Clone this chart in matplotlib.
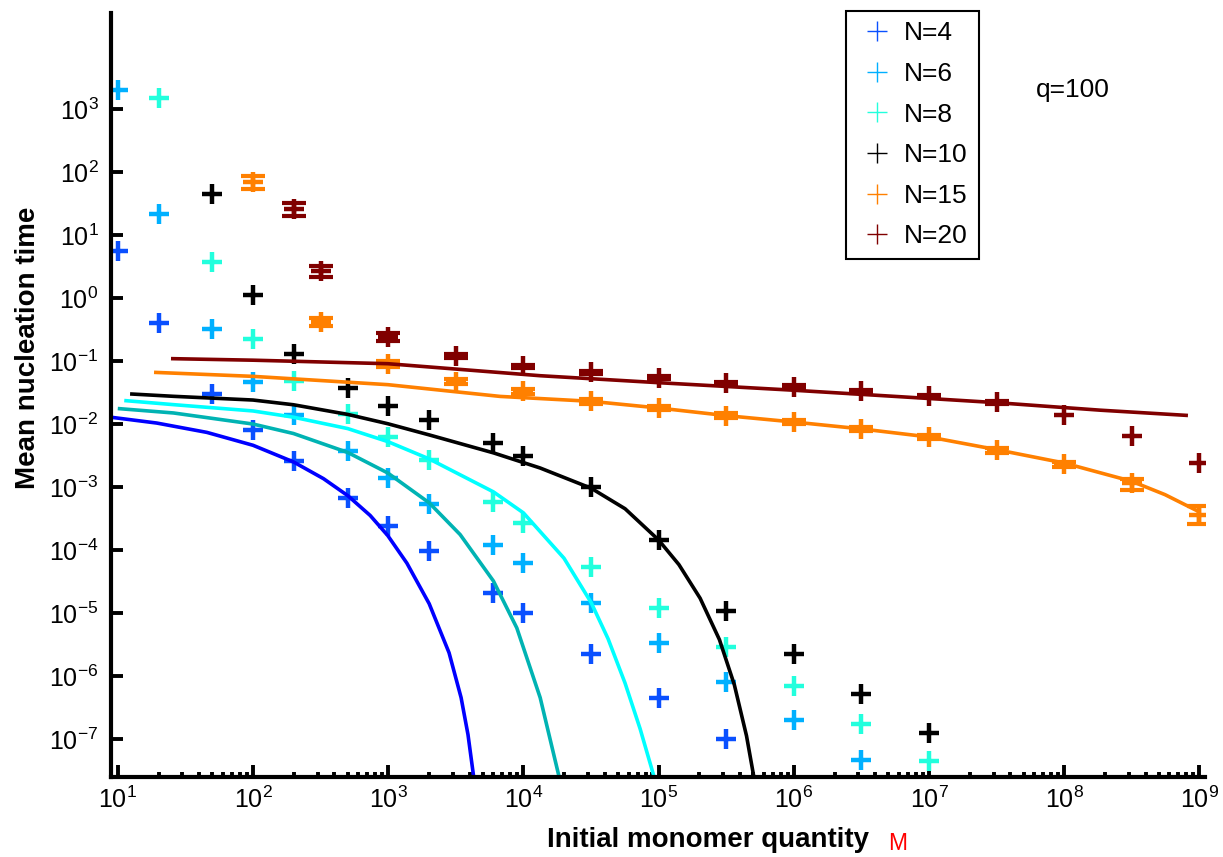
import numpy as np
import matplotlib
matplotlib.use("Agg")
import matplotlib.pyplot as plt
from matplotlib.lines import Line2D
from matplotlib.ticker import NullLocator, FixedLocator

plt.rcParams['font.family'] = ['Liberation Sans', 'DejaVu Sans']

# simulated mean nucleation times (markers)
x4 = [10, 20, 50, 100, 200, 500, 1000, 2000, 6000, 1e4, 31623, 1e5, 316228]
y4 = [5.5, 0.40, 0.030, 0.0081, 0.0026, 6.7e-4, 2.4e-4, 9.5e-5, 2.1e-5, 1.0e-5, 2.2e-6, 4.5e-7, 9.8e-8]

x6 = [10, 20, 50, 100, 200, 500, 1000, 2000, 6000, 1e4, 31623, 1e5, 316228, 1e6, 3.16e6]
y6 = [2020, 21.5, 0.32, 0.047, 0.014, 0.0037, 0.0014, 5.3e-4, 1.2e-4, 6.2e-5, 1.44e-5, 3.3e-6, 8e-7, 2.0e-7, 4.7e-8]

x8 = [20, 50, 100, 200, 500, 1000, 2000, 6000, 1e4, 31623, 1e5, 316228, 1e6, 3.16e6, 1e7]
y8 = [1490, 3.7, 0.22, 0.048, 0.0144, 0.0063, 0.0027, 5.7e-4, 2.7e-4, 5.4e-5, 1.2e-5, 2.9e-6, 7e-7, 1.75e-7, 4.4e-8]

x10 = [50, 100, 200, 500, 1000, 2000, 6000, 1e4, 31623, 1e5, 316228, 1e6, 3.16e6, 1e7]
y10 = [45, 1.1, 0.13, 0.037, 0.0195, 0.0114, 0.005, 0.0031, 1.0e-3, 1.45e-4, 1.07e-5, 2.2e-6, 5.2e-7, 1.25e-7]

x15 = [100, 316, 1000, 3162, 1e4, 31623, 1e5, 316228, 1e6, 3.16e6, 1e7, 3.16e7, 1e8, 3.16e8, 1e9]
y15 = [69, 0.41, 0.089, 0.047, 0.033, 0.023, 0.018, 0.0135, 0.0108, 0.0084, 0.0062, 0.0038, 0.0023, 0.00115, 0.00036]
lo15 = [54, 0.355, 0.080, 0.043, 0.030, 0.021, 0.0165, 0.0124, 0.0099, 0.0077, 0.0057, 0.0035, 0.0021, 0.00091, 0.00026]
hi15 = [85, 0.48, 0.099, 0.051, 0.036, 0.025, 0.0196, 0.0147, 0.0117, 0.0091, 0.0067, 0.0041, 0.0025, 0.00135, 0.00049]

x20 = [200, 316, 1000, 3162, 1e4, 31623, 1e5, 316228, 1e6, 3.16e6, 1e7, 3.16e7, 1e8, 3.16e8, 1e9]
y20 = [26, 2.7, 0.24, 0.12, 0.082, 0.066, 0.054, 0.045, 0.039, 0.033, 0.028, 0.022, 0.014, 0.0065, 0.0024]
lo20 = [19.7, 2.12, 0.21, 0.112, 0.077, 0.062, 0.051, 0.043, 0.037, 0.031, 0.027, 0.021, 0.014, 0.0065, 0.0024]
hi20 = [32.2, 3.26, 0.275, 0.128, 0.087, 0.070, 0.057, 0.047, 0.041, 0.035, 0.029, 0.023, 0.014, 0.0065, 0.0024]

# theoretical curves
cx4 = [9.04, 19.4, 45.5, 100, 199, 332, 502, 735, 993, 1374, 2009, 2818, 3459, 3890, 4315]
cy4 = [0.01274, 0.01035, 0.00736, 0.00459, 0.0025, 0.001355, 7.28e-4, 3.53e-4, 1.687e-4, 6.17e-5,
       1.40e-5, 2.33e-6, 4.52e-7, 1.17e-7, 2.23e-8]

cx6 = [10.3, 25.8, 100, 199, 502, 993, 2009, 3404, 6000, 8933, 13300, 18160]
cy6 = [0.0175, 0.01496, 0.00998, 0.00706, 0.00353, 0.001667, 5.6e-4, 1.754e-4, 3.21e-5, 5.78e-6,
       4.52e-7, 2.75e-8]

cx8 = [11.5, 25.8, 100, 199, 502, 993, 2009, 6000, 10000, 19950, 31700, 42270, 56490, 72950, 92680]
cy8 = [0.02344, 0.02028, 0.0161, 0.01282, 0.00845, 0.00525, 0.00279, 8.36e-4, 3.88e-4, 7.4e-5,
       1.46e-5, 3.89e-6, 7.66e-7, 1.45e-7, 2.47e-8]

cx10 = [12.7, 25.8, 100, 199, 502, 993, 2009, 6000, 13300, 31700, 56490, 99770, 141300, 202800,
        281800, 363100, 446700, 517600]
cy10 = [0.0299, 0.0275, 0.024, 0.0202, 0.01419, 0.01009, 0.00671, 0.00348, 0.002, 9.55e-4,
        4.51e-4, 1.445e-4, 5.85e-5, 1.71e-5, 3.76e-6, 7.24e-7, 1.12e-7, 1.91e-8]

cx15 = [19.1, 100.7, 993, 6730, 31700, 99770, 319200, 993200, 3.18e6, 1.0e7, 3.17e7, 1.0e8, 3.16e8, 5.57e8, 9.82e8]
cy15 = [0.0659, 0.0570, 0.0421, 0.0274, 0.0229, 0.01795, 0.01355, 0.01076, 0.00834, 0.00622, 0.00391,
        0.0024, 0.00123, 7.55e-4, 4.1e-4]

cx20 = [25.5, 100, 993, 13300, 99100, 988600, 6.11e6, 3.17e7, 1.85e8, 7.98e8]
cy20 = [0.1089, 0.103, 0.0906, 0.0584, 0.0453, 0.0344, 0.0271, 0.0218, 0.01656, 0.01371]

labels = ['N=4', 'N=6', 'N=8', 'N=10', 'N=15', 'N=20']
marker_colors = ['#0a50ff', '#00b0ff', '#22ffdd', '#000000', '#ff8000', '#800000']
curve_colors = ['#0000ff', '#00b3b3', '#00ffff', '#000000', '#ff8000', '#800000']

fig = plt.figure(figsize=(12.23, 8.57), dpi=100)
ax = fig.add_axes([111 / 1223, 1 - 776.7 / 857, (1205 - 111) / 1223, (776.7 - 12.7) / 857])
ax.set_xscale('log')
ax.set_yscale('log')

points = [(x4, y4), (x6, y6), (x8, y8), (x10, y10), (x15, y15), (x20, y20)]
curves = [(cx4, cy4), (cx6, cy6), (cx8, cy8), (cx10, cy10), (cx15, cy15), (cx20, cy20)]

for (px, py), c in zip(points, marker_colors):
    ax.plot(px, py, ls='none', marker='+', ms=14, mew=3.2, color=c)

# error bars only where the spread is visible
for px, py, lo, hi, c in [(x15, y15, lo15, hi15, marker_colors[4]),
                          (x20, y20, lo20, hi20, marker_colors[5])]:
    px, py, lo, hi = map(np.array, (px, py, lo, hi))
    m = hi > lo
    ax.errorbar(px[m], py[m], yerr=[py[m] - lo[m], hi[m] - py[m]], fmt='none',
                ecolor=c, elinewidth=3.2, capsize=8.6, capthick=3)

for (cx, cy), c in zip(curves, curve_colors):
    ax.plot(cx, cy, color=c, lw=2.6, solid_joinstyle='round')

ax.set_xlim(8.9, 1.1e9)
ax.set_ylim(10 ** -7.6, 10 ** 4.53)

ax.yaxis.set_major_locator(FixedLocator([10.0 ** k for k in range(-7, 4)]))
ax.yaxis.set_minor_locator(NullLocator())
ax.xaxis.set_major_locator(FixedLocator([10.0 ** k for k in range(1, 10)]))
ax.xaxis.set_minor_locator(FixedLocator([m * 10.0 ** k for k in range(1, 9) for m in range(2, 10)]))
ax.tick_params(which='both', direction='in', width=2.8, labelsize=18)
ax.tick_params(which='major', length=8.5)
ax.tick_params(which='minor', length=3.6)
ax.tick_params(axis='x', which='both', pad=7)
ax.tick_params(axis='y', which='both', pad=9)

for s in ['top', 'right']:
    ax.spines[s].set_visible(False)
for s in ['left', 'bottom']:
    ax.spines[s].set_linewidth(3)

ax.set_xlabel('Initial monomer quantity', fontsize=20, fontweight='bold')
ax.xaxis.set_label_coords(0.546, -0.066)
ax.set_ylabel('Mean nucleation time', fontsize=20, fontweight='bold')
ax.yaxis.set_label_coords(-0.064, 0.562)

fig.text(898 / 1223, 1 - 843 / 857, 'M', color='red', fontsize=16.5, ha='center', va='center')
ax.text(0.879, 0.899, 'q=100', transform=ax.transAxes, fontsize=19, ha='center', va='center')

handles = [Line2D([], [], ls='none', marker='+', ms=14, mew=1.0, color=c) for c in marker_colors]
leg = ax.legend(handles, labels, loc='upper left', bbox_to_anchor=(846 / 1223, 1 - 10.7 / 857),
                bbox_transform=fig.transFigure, borderaxespad=0, fancybox=False,
                edgecolor='black', framealpha=1, fontsize=19, handlelength=1.57,
                handletextpad=0.24, borderpad=0.4, labelspacing=0.63)
leg.get_frame().set_linewidth(1.5)

fig.savefig('out.png', dpi=100)
